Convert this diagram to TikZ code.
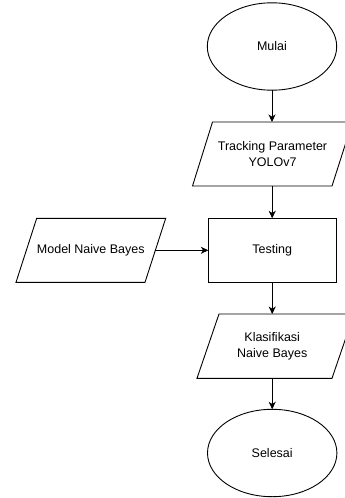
\documentclass[tikz,border=0pt]{standalone}
\usepackage{fontspec}
\setmainfont{Liberation Sans}
\usetikzlibrary{shapes.geometric,arrows.meta}
\begin{document}
\begin{tikzpicture}[x=1pt,y=-1pt,
  every node/.style={font=\fontsize{12.5}{16}\selectfont, align=center, inner sep=0pt, outer sep=0pt},
  term/.style={ellipse, draw, line width=0.9pt, minimum width=129.4pt, minimum height=87.4pt},
  procbox/.style={rectangle, draw, line width=0.9pt, minimum width=127.7pt, minimum height=64pt},
  iotext/.style={rectangle, minimum height=64pt},
  shapeline/.style={draw, line width=0.9pt, line join=miter},
  conn/.style={draw, line width=0.9pt, -{Stealth[length=7.5pt,width=7pt,inset=2.2pt]}}]
\useasboundingbox (0,0) rectangle (345,498);
\clip (0,0) rectangle (345,498);
% shapes
\node[term] (mulai) at (272,46.5) {Mulai};
\path[shapeline] (192.5,186) -- (332,186) -- (352.5,122) -- (212.5,122) -- cycle;
\node[iotext, minimum width=140pt] (track) at (272.5,154) {Tracking Parameter\\YOLOv7};
\node[procbox] (test) at (272.2,250.3) {Testing};
\path[shapeline] (16,282.3) -- (145,282.3) -- (165.7,218.3) -- (36.7,218.3) -- cycle;
\node[iotext, minimum width=129pt] (model) at (90.8,250.3) {Model Naive Bayes};
\path[shapeline] (197,378.3) -- (332,378.3) -- (354,314) -- (219,314) -- cycle;
\node[iotext, minimum width=135pt, minimum height=64.3pt] (klas) at (272.2,346.2) {Klasifikasi\\Naive Bayes};
\node[term] (selesai) at (272.2,453) {Selesai};
% connectors
\draw[conn] (mulai.south) -- (mulai.south |- track.north);
\draw[conn] (track.south -| test.north) -- (test.north);
\draw[conn] (model.east) -- (test.west);
\draw[conn] (test.south) -- (test.south |- klas.north);
\draw[conn] (klas.south -| selesai.north) -- (selesai.north);
\end{tikzpicture}
\end{document}
